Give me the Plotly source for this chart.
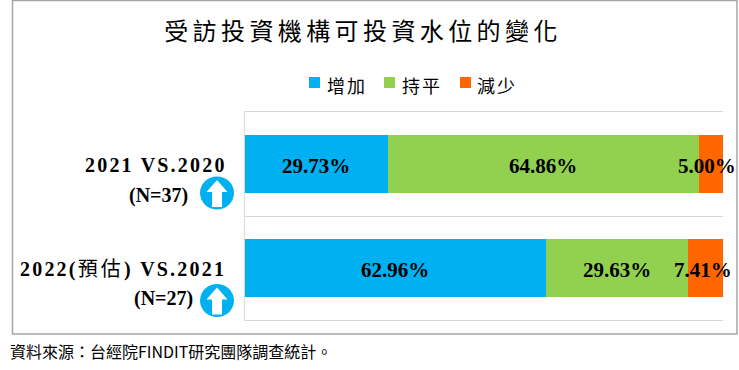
import plotly.graph_objects as go

W, H = 739, 370
L, R, T, B = 245, 723, 112, 320

categories = ["2021 VS.2020", "2022(預估) VS.2021"]
sample_sizes = ["(N=37)", "(N=27)"]
series_names = ["增加", "持平", "減少"]
increase = [29.73, 62.96]
flat = [64.86, 29.63]
decrease = [5.00, 7.41]
colors = ["#00B0F0", "#92D050", "#FF6600"]
title_text = "受訪投資機構可投資水位的變化"
source_text = "資料來源：台經院FINDIT研究團隊調查統計。"

CJK = "Noto Sans CJK TC"
SERIF = "Liberation Serif"


def spaced(s, px):
    return f'<span style="letter-spacing:{px}px">{s}</span>'


def px(x):
    return (x - L) / (R - L)


def py(y):
    return (B - y) / (B - T)


fig = go.Figure()
for name, vals, col in zip(series_names, [increase, flat, decrease], colors):
    fig.add_trace(go.Bar(
        name=name, y=categories, x=vals, orientation="h", marker=dict(color=col, line=dict(width=0)),
        showlegend=False, hoverinfo="skip"))

shapes = [dict(type="rect", xref="paper", yref="paper", x0=px(12.5), x1=px(737), y0=py(334), y1=py(0.5),
               line=dict(color="#A6A6A6", width=1.5), fillcolor="rgba(0,0,0,0)", layer="below")]
annotations = []

# legend row
legend_pos = [(309, 327), (384, 402), (460, 477)]
for name, col, (mx, tx) in zip(series_names, colors, legend_pos):
    shapes.append(dict(type="rect", xref="paper", yref="paper", x0=px(mx), x1=px(mx + 11), y0=py(88), y1=py(77),
                       fillcolor=col, line=dict(width=0)))
    annotations.append(dict(xref="paper", yref="paper", x=px(tx), y=py(85), xanchor="left", yanchor="middle",
                            showarrow=False, text=spaced(name, 2), xshift=-2,
                            font=dict(family=CJK, size=18, color="black")))

# value labels, centred on their segments (small nudges follow the reference)
nudges = {(0, 2): -4, (1, 2): -2}
for i, cat in enumerate(categories):
    total = increase[i] + flat[i] + decrease[i]
    start = 0
    for j, vals in enumerate([increase, flat, decrease]):
        annotations.append(dict(xref="x", yref="y", x=(start + vals[i] / 2) / total * 100, y=cat,
                                xanchor="center", yanchor="middle", showarrow=False, xshift=nudges.get((i, j), 0),
                                yshift=-2, text=f"{vals[i]:.2f}%",
                                font=dict(family=SERIF, size=21, color="black", weight="bold")))
        start += vals[i]

label_layout = [(229, 165, 190, 195, 193), (228, 269, 195, 298, 300.5)]
for cat, n, (x1, y1, x2, y2, yc) in zip(categories, sample_sizes, label_layout):
    label = cat.replace("預估", '<span style="font-weight:normal;letter-spacing:3.2px">預估</span>')
    annotations.append(dict(xref="paper", yref="paper", x=px(x1), y=py(y1), xanchor="right", yanchor="middle",
                            showarrow=False, text=spaced(label, 2.2),
                            font=dict(family=f"{SERIF}, {CJK}", size=20, color="black", weight="bold")))
    annotations.append(dict(xref="paper", yref="paper", x=px(x2), y=py(y2), xanchor="right", yanchor="middle",
                            showarrow=False, text=n,
                            font=dict(family=SERIF, size=20, color="black", weight="bold")))
    xc = 217
    shapes.append(dict(type="circle", xref="paper", yref="paper", x0=px(xc - 17), x1=px(xc + 17),
                       y0=py(yc + 16.5), y1=py(yc - 16.5), fillcolor="#00B0F0", line=dict(width=0)))
    arrow = [(0, -13), (10.5, -1), (5, -1), (5, 14), (-5, 14), (-5, -1), (-10.5, -1)]
    path = "M " + " L ".join(f"{px(xc + a):.5f},{py(yc + b):.5f}" for a, b in arrow) + " Z"
    shapes.append(dict(type="path", xref="paper", yref="paper", path=path, fillcolor="white", line=dict(width=0)))

annotations.append(dict(xref="paper", yref="paper", x=px(8), y=py(351), xanchor="left", yanchor="middle",
                        showarrow=False, text=source_text, font=dict(family=CJK, size=16, color="black")))

fig.update_layout(
    width=W, height=H, margin=dict(l=L, r=W - R, t=T, b=H - B, pad=0, autoexpand=False),
    paper_bgcolor="white", plot_bgcolor="white", barmode="stack", barnorm="percent", bargap=0.44,
    showlegend=False,
    title=dict(text=spaced(title_text, 4.4), x=363 / W, y=1 - 32 / H, xanchor="center", yanchor="middle",
               font=dict(family=CJK, size=24, color="black")),
    xaxis=dict(range=[0, 100], showticklabels=False, ticks="", showgrid=False, zeroline=False,
               showline=True, mirror=True, linecolor="#D9D9D9", linewidth=1, fixedrange=True),
    yaxis=dict(type="category", categoryorder="array", categoryarray=categories[::-1], autorange=False, range=[-0.5, 1.5],
               tickson="boundaries", showgrid=True, gridcolor="#D9D9D9", gridwidth=1,
               showline=True, linecolor="#D9D9D9", linewidth=1,
               showticklabels=False, ticks="", zeroline=False, fixedrange=True),
    shapes=shapes, annotations=annotations, hovermode=False,
)
fig.write_html("out.html", config={"displayModeBar": False},
               post_script="document.body.style.margin='0';")
